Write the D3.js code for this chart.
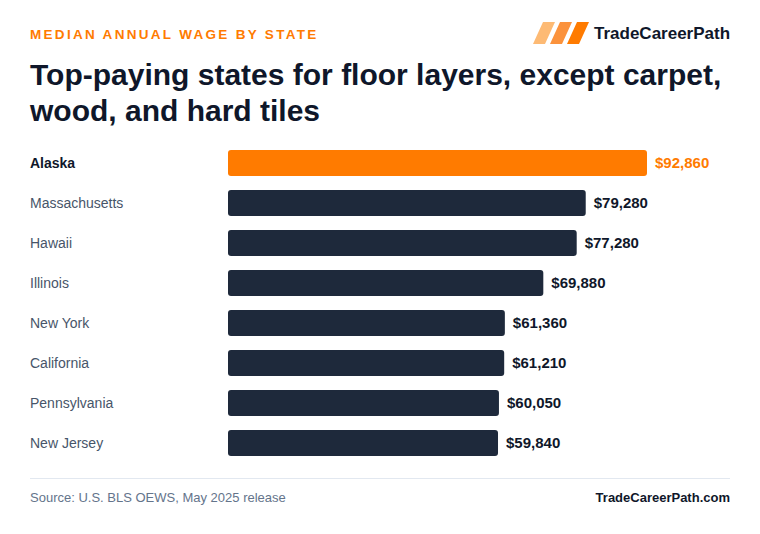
<!DOCTYPE html>
<html>
<head>
<meta charset="utf-8">
<script src="https://cdn.jsdelivr.net/npm/d3@7"></script>
<style>
  body { margin: 0; background: #fff; font-family: "Liberation Sans", Arial, sans-serif; }
</style>
</head>
<body>
<div id="chart"></div>
<script>
const states = ["Alaska", "Massachusetts", "Hawaii", "Illinois", "New York", "California", "Pennsylvania", "New Jersey"];
const wages = [92860, 79280, 77280, 69880, 61360, 61210, 60050, 59840];
const highlight = "Alaska";

const width = 760, height = 534;
const orange = "#ff7b00", navy = "#1e293b";

const svg = d3.select("#chart").append("svg")
    .attr("width", width)
    .attr("height", height);

// header
svg.append("text")
    .attr("x", 30).attr("y", 39)
    .attr("fill", orange)
    .style("font-size", "13.5px").style("font-weight", "bold")
    .style("letter-spacing", "2.3px")
    .text("MEDIAN ANNUAL WAGE BY STATE");

// logo stripes
const stripeColors = ["#fdba74", "#fb923c", "#ff7b00"];
stripeColors.forEach((c, i) => {
    const x0 = 533 + i * 17;
    svg.append("path")
        .attr("d", `M${x0 + 10},22 L${x0 + 22},22 L${x0 + 12},44 L${x0},44 Z`)
        .attr("fill", c);
});
svg.append("text")
    .attr("x", 594).attr("y", 39)
    .attr("fill", "#0f172a")
    .style("font-size", "17px").style("font-weight", "bold")
    .text("TradeCareerPath");

const title = svg.append("text")
    .attr("fill", "#0f172a")
    .style("font-size", "30px").style("font-weight", "bold");
title.append("tspan").attr("x", 30).attr("y", 85).text("Top-paying states for floor layers, except carpet,");
title.append("tspan").attr("x", 30).attr("y", 121).text("wood, and hard tiles");

// bars
const x = d3.scaleLinear().domain([0, d3.max(wages)]).range([228, 647]);
const y = d3.scaleBand().domain(states).range([143, 463]).paddingInner(0.35).paddingOuter(0.175);

const rows = svg.append("g").selectAll("g")
    .data(states.map((s, i) => ({ state: s, wage: wages[i] })))
    .join("g");

rows.append("rect")
    .attr("x", x(0))
    .attr("y", d => y(d.state))
    .attr("width", d => x(d.wage) - x(0))
    .attr("height", y.bandwidth())
    .attr("rx", 3)
    .attr("fill", d => d.state === highlight ? orange : navy);

rows.append("text")
    .attr("x", 30)
    .attr("y", d => y(d.state) + y.bandwidth() / 2)
    .attr("dy", "0.35em")
    .attr("fill", d => d.state === highlight ? "#0f172a" : "#475569")
    .style("font-size", "14px")
    .style("font-weight", d => d.state === highlight ? "bold" : "normal")
    .text(d => d.state);

rows.append("text")
    .attr("x", d => x(d.wage) + 8)
    .attr("y", d => y(d.state) + y.bandwidth() / 2)
    .attr("dy", "0.35em")
    .attr("fill", d => d.state === highlight ? orange : "#0f172a")
    .style("font-size", "15px").style("font-weight", "bold")
    .text(d => "$" + d3.format(",")(d.wage));

// footer
svg.append("line")
    .attr("x1", 30).attr("x2", 730)
    .attr("y1", 478.5).attr("y2", 478.5)
    .attr("stroke", "#e2e8f0");

svg.append("text")
    .attr("x", 30).attr("y", 502)
    .attr("fill", "#64748b")
    .style("font-size", "13px")
    .text("Source: U.S. BLS OEWS, May 2025 release");

svg.append("text")
    .attr("x", 730).attr("y", 502)
    .attr("text-anchor", "end")
    .attr("fill", "#0f172a")
    .style("font-size", "13px").style("font-weight", "bold")
    .text("TradeCareerPath.com");
</script>
</body>
</html>
